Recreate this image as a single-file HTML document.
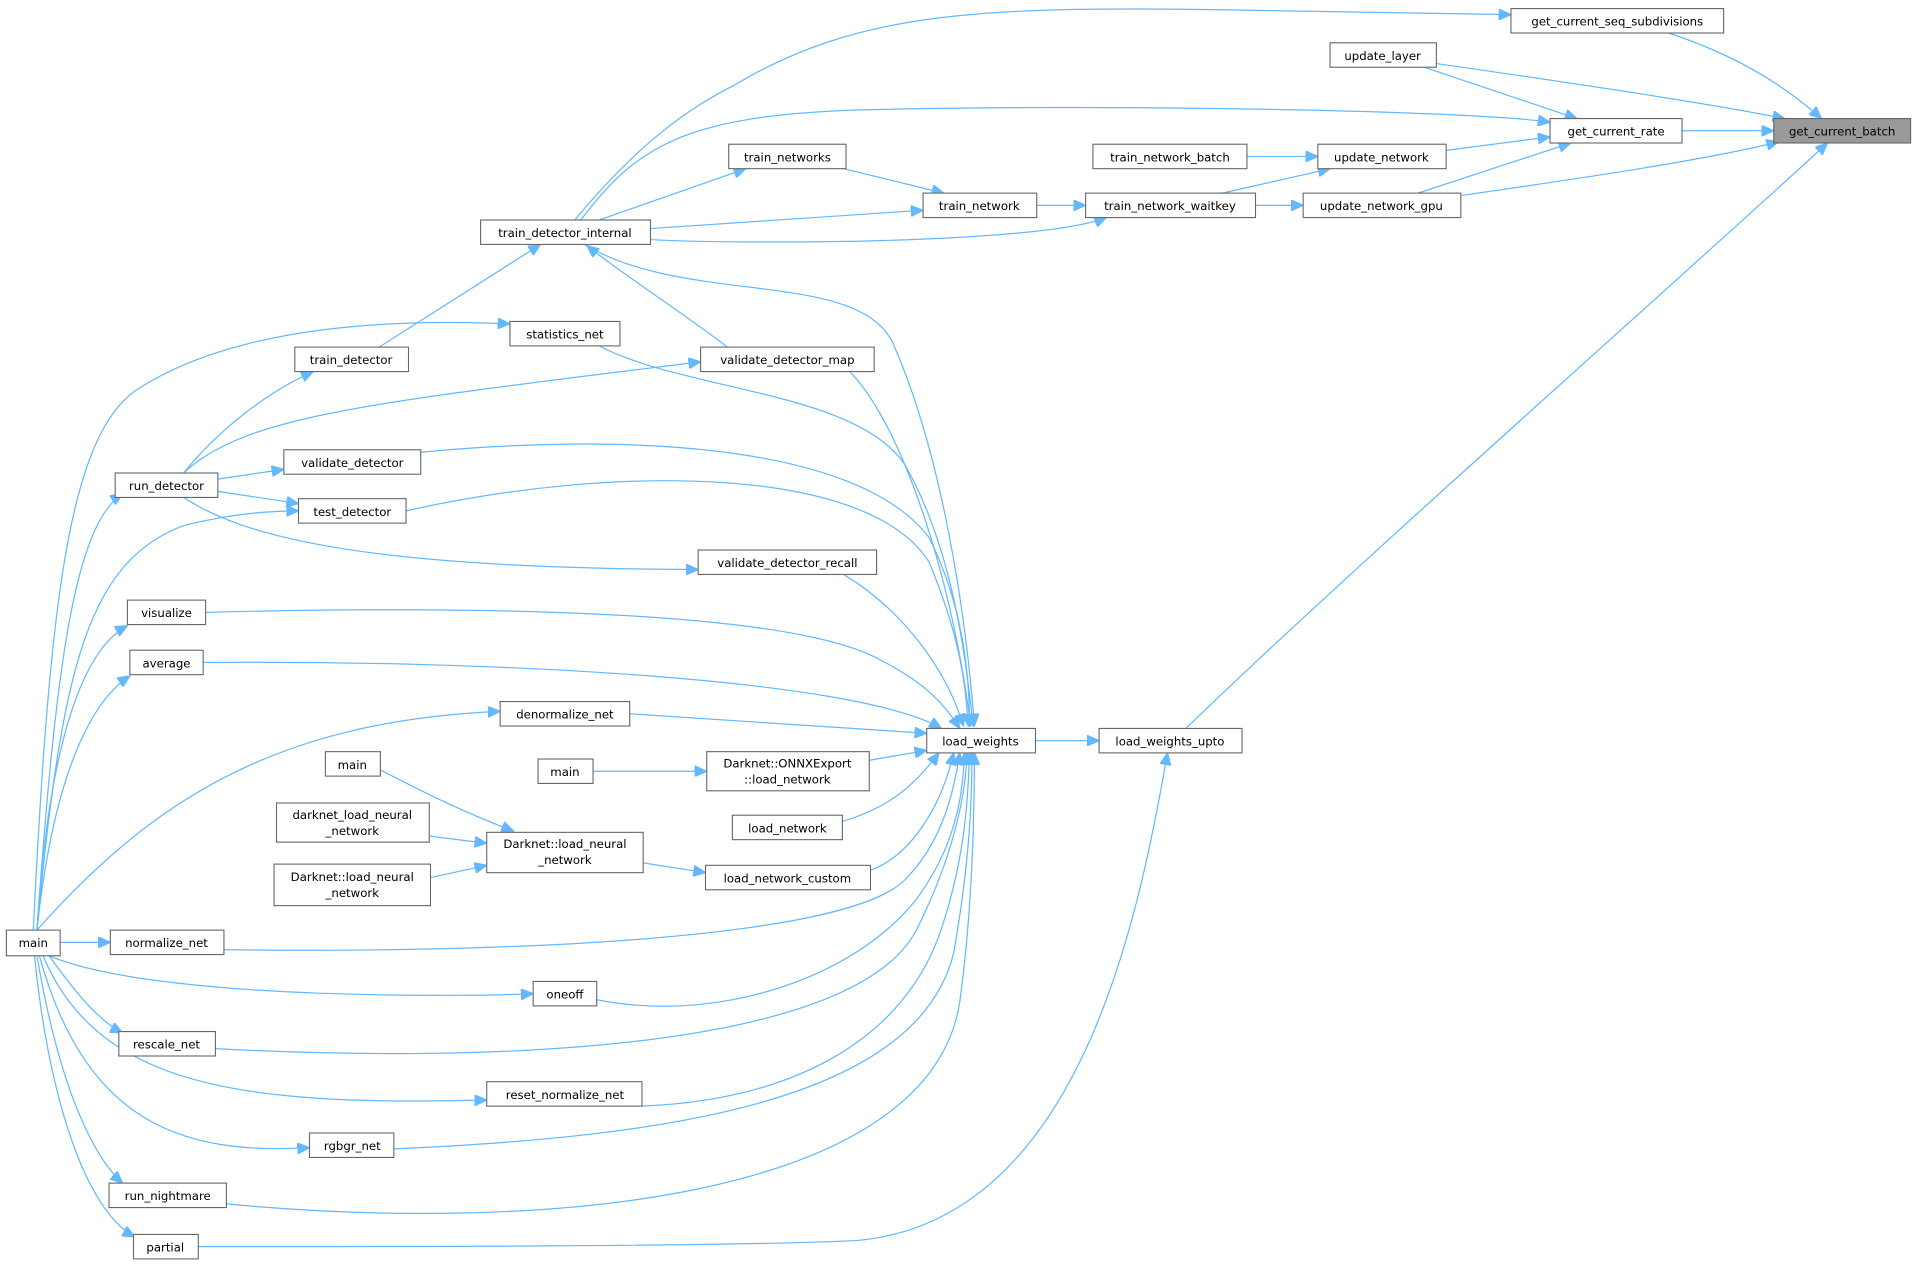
<!DOCTYPE html>
<html><head><meta charset="utf-8"><style>
html,body{margin:0;padding:0;background:#fff;}
svg{display:block}
text{font-family:"DejaVu Sans","Liberation Sans",sans-serif;font-size:9.6px;fill:#000;text-anchor:middle}
rect{fill:#fff;stroke:#666;stroke-width:0.9}
path{fill:none;stroke:#63b8ff;stroke-width:1}
</style></head><body>
<svg width="1917" height="1265" viewBox="0 0 1568 1035" xmlns="http://www.w3.org/2000/svg">
<defs><marker id="a" markerUnits="userSpaceOnUse" markerWidth="11" markerHeight="9" refX="10" refY="4.5" orient="auto"><path d="M0,0 L10,4.5 L0,9 Z" style="fill:#63b8ff;stroke:#63b8ff"/></marker></defs>
<g marker-end="url(#a)">
<path d="M478,200 C560,250 700,220 730,280 C770,370 790,500 797,594"/>
<path d="M490,283 C560,320 700,320 740,380 C780,450 790,540 796,594"/>
<path d="M695,304 C740,350 780,480 794,594"/>
<path d="M344,370 C500,355 700,360 760,440 C790,500 793,560 793,594"/>
<path d="M332,418 C500,380 710,380 760,460 C785,520 790,560 792,594"/>
<path d="M690,470 C740,500 775,550 788,594"/>
<path d="M168,501 C400,495 650,500 720,540 C760,560 775,580 785,596"/>
<path d="M166,542 C400,540 700,555 770,596"/>
<path d="M515,584 L758,600"/>
<path d="M711,622 L758,614"/>
<path d="M689,672 C730,660 750,640 768,616"/>
<path d="M712,712 C745,700 770,660 780,616"/>
<path d="M183,777 C400,780 690,770 740,720 C770,690 780,650 785,616"/>
<path d="M488,818 C600,840 720,790 760,720 C785,680 788,640 789,616"/>
<path d="M176,858 C400,870 700,860 750,760 C780,700 790,650 791,616"/>
<path d="M525,905 C650,900 740,850 770,760 C790,700 792,650 793,616"/>
<path d="M322,940 C550,930 750,900 780,780 C794,700 795,650 795,616"/>
<path d="M185,985 C450,1010 760,980 785,820 C796,740 797,660 797,616"/>
<path d="M162,1020 C300,1020 600,1020 700,1015 C880,1000 930,760 955,616"/>
<path d="M30,761 C45,550 60,430 100,404"/>
<path d="M27,761 C40,500 55,360 110,320 C200,260 350,262 417,265"/>
<path d="M30,761 C50,550 70,460 150,430 C190,420 220,418 244,418"/>
<path d="M30,761 C40,600 70,530 104,512"/>
<path d="M30,761 C45,620 80,570 106,553"/>
<path d="M30,761 C120,660 220,590 409,582"/>
<path d="M49,771 L90,771"/>
<path d="M40,782 C130,820 400,815 436,813"/>
<path d="M40,782 C60,810 80,835 100,845"/>
<path d="M35,782 C80,890 200,905 398,900"/>
<path d="M32,782 C70,920 150,945 253,939"/>
<path d="M30,782 C50,900 80,950 100,968"/>
<path d="M28,782 C40,900 70,990 110,1012"/>
<path d="M150,387 C180,350 220,320 256,304"/>
<path d="M150,387 C200,340 300,330 573,296"/>
<path d="M178,392 L232,384"/>
<path d="M178,402 L244,412"/>
<path d="M150,407 C200,440 300,465 571,466"/>
<path d="M310,284 L442,200"/>
<path d="M595,284 C550,250 510,225 480,201"/>
<path d="M490,180 L610,138"/>
<path d="M532,187 L755,172"/>
<path d="M532,196 C600,200 850,200 905,178"/>
<path d="M475,180 C520,120 560,95 700,90 C900,85 1200,90 1268,100"/>
<path d="M470,180 C520,120 560,90 600,70 C700,10 800,5 1000,8 L1236,12"/>
<path d="M690,138 L772,158"/>
<path d="M848,168 L888,168"/>
<path d="M1000,158 L1088,138"/>
<path d="M1027,168 L1066,168"/>
<path d="M1020,128 L1078,128"/>
<path d="M1183,123 L1268,112"/>
<path d="M1160,158 L1285,117"/>
<path d="M1165,55 L1290,97"/>
<path d="M1175,52 C1300,70 1400,85 1460,97"/>
<path d="M1376,107 L1451,107"/>
<path d="M1195,160 C1300,145 1400,130 1455,116"/>
<path d="M1365,27 C1420,45 1460,70 1490,97"/>
<path d="M970,596 C1100,470 1350,250 1495,117"/>
<path d="M847,606 L899,606"/>
<path d="M311,630 C350,650 380,665 420,680"/>
<path d="M351,684 L398,690"/>
<path d="M352,718 L398,708"/>
<path d="M526,706 L577,714"/>
<path d="M485,631 L578,631"/>
</g>
<g>
<rect x="1451" y="97" width="112" height="20" style="fill:#999"/><text x="1507" y="111">get_current_batch</text>
<rect x="1236" y="7" width="174" height="20"/><text x="1323" y="21">get_current_seq_subdivisions</text>
<rect x="1088" y="35" width="87" height="20"/><text x="1131" y="49">update_layer</text>
<rect x="1268" y="97" width="108" height="20"/><text x="1322" y="111">get_current_rate</text>
<rect x="894" y="118" width="126" height="20"/><text x="957" y="132">train_network_batch</text>
<rect x="1078" y="118" width="105" height="20"/><text x="1130" y="132">update_network</text>
<rect x="596" y="118" width="96" height="20"/><text x="644" y="132">train_networks</text>
<rect x="755" y="158" width="93" height="20"/><text x="801" y="172">train_network</text>
<rect x="888" y="158" width="139" height="20"/><text x="957" y="172">train_network_waitkey</text>
<rect x="1066" y="158" width="129" height="20"/><text x="1130" y="172">update_network_gpu</text>
<rect x="393" y="180" width="139" height="20"/><text x="462" y="194">train_detector_internal</text>
<rect x="417" y="263" width="90" height="20"/><text x="462" y="277">statistics_net</text>
<rect x="241" y="284" width="93" height="20"/><text x="287" y="298">train_detector</text>
<rect x="573" y="284" width="142" height="20"/><text x="644" y="298">validate_detector_map</text>
<rect x="232" y="368" width="112" height="20"/><text x="288" y="382">validate_detector</text>
<rect x="94" y="387" width="84" height="20"/><text x="136" y="401">run_detector</text>
<rect x="244" y="408" width="88" height="20"/><text x="288" y="422">test_detector</text>
<rect x="571" y="450" width="146" height="20"/><text x="644" y="464">validate_detector_recall</text>
<rect x="104" y="491" width="64" height="20"/><text x="136" y="505">visualize</text>
<rect x="106" y="532" width="60" height="20"/><text x="136" y="546">average</text>
<rect x="409" y="574" width="106" height="20"/><text x="462" y="588">denormalize_net</text>
<rect x="758" y="596" width="89" height="20"/><text x="802" y="610">load_weights</text>
<rect x="899" y="596" width="117" height="20"/><text x="957" y="610">load_weights_upto</text>
<rect x="266" y="615" width="45" height="20"/><text x="288" y="629">main</text>
<rect x="440" y="621" width="45" height="20"/><text x="462" y="635">main</text>
<rect x="578" y="615" width="133" height="32"/><text x="644" y="628">Darknet::ONNXExport</text><text x="644" y="641">::load_network</text>
<rect x="226" y="657" width="125" height="32"/><text x="288" y="670">darknet_load_neural</text><text x="288" y="683">_network</text>
<rect x="398" y="681" width="128" height="33"/><text x="462" y="694">Darknet::load_neural</text><text x="462" y="707">_network</text>
<rect x="599" y="667" width="90" height="20"/><text x="644" y="681">load_network</text>
<rect x="224" y="707" width="128" height="34"/><text x="288" y="721">Darknet::load_neural</text><text x="288" y="734">_network</text>
<rect x="577" y="708" width="135" height="20"/><text x="644" y="722">load_network_custom</text>
<rect x="5" y="761" width="44" height="21"/><text x="27" y="775">main</text>
<rect x="90" y="761" width="93" height="20"/><text x="136" y="775">normalize_net</text>
<rect x="436" y="803" width="52" height="20"/><text x="462" y="817">oneoff</text>
<rect x="97" y="844" width="79" height="20"/><text x="136" y="858">rescale_net</text>
<rect x="398" y="885" width="127" height="20"/><text x="462" y="899">reset_normalize_net</text>
<rect x="253" y="927" width="69" height="20"/><text x="288" y="941">rgbgr_net</text>
<rect x="89" y="968" width="96" height="20"/><text x="137" y="982">run_nightmare</text>
<rect x="109" y="1010" width="53" height="20"/><text x="135" y="1024">partial</text>
</g>
</svg>
</body></html>
